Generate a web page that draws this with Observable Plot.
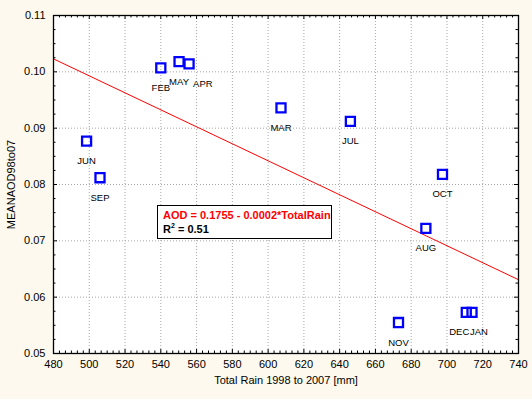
<!DOCTYPE html>
<html><head><meta charset="utf-8">
<script src="https://cdn.jsdelivr.net/npm/d3@7"></script>
<script src="https://cdn.jsdelivr.net/npm/@observablehq/plot@0.6"></script>
<style>
body{margin:0;background:#FDF9EE;}
#wrap{position:relative;width:532px;height:399px;background:#FDF9EE;}
#box{position:absolute;left:157px;top:205px;width:173px;height:32px;border:1px solid #000;background:#fff;font:bold 11px "Liberation Sans",Arial,sans-serif;color:#000;}
#box .l1{position:absolute;left:5px;top:3px;color:#ff0000;white-space:nowrap;}
#box .l2{position:absolute;left:5px;top:17px;white-space:nowrap;}
#box sup{font-size:7px;vertical-align:5px;line-height:0;}
</style></head><body>
<div id="wrap"><div id="chart"></div>
<div id="box"><div class="l1">AOD = 0.1755 - 0.0002*TotalRain</div><div class="l2">R<sup>2</sup> = 0.51</div></div>
</div>
<script>
const months = ["JUN","SEP","FEB","MAY","APR","MAR","JUL","OCT","AUG","NOV","DEC","JAN"];
const rain = [498.5, 506, 540, 550.2, 555.8, 607.2, 646, 697.5, 688.2, 672.9, 710.8, 714];
const aod = [0.0877, 0.0812, 0.1007, 0.1018, 0.1014, 0.0936, 0.0912, 0.0818, 0.0722, 0.0555, 0.0573, 0.0573];
const fitRain = [480, 740];
const fitAod = [0.1023, 0.0631];
const xTicks = [480,500,520,540,560,580,600,620,640,660,680,700,720,740];
const yTicks = [0.05,0.06,0.07,0.08,0.09,0.10,0.11];

const data = months.map((m,i)=>({month:m, rain:rain[i], aod:aod[i]}));
const fit = fitRain.map((r,i)=>({rain:r, aod:fitAod[i]}));

const W=532,H=399,mL=53,mR=14,mT=15,mB=46;
const iw=W-mL-mR, ih=H-mT-mB;
const xMinor = d3.range(0,79).filter(i=>i%6!==0).map(i=>480+i*20/6);
const yMinor = d3.range(0,25).filter(i=>i%4!==0).map(i=>0.05+i*0.0025);
const labelStyle = {APR:{a:"start",dx:4}, JAN:{a:"start",dx:-2}, DEC:{a:"end",dx:3}};
const font = "Liberation Sans, Arial, sans-serif";
const labelMarks = data.map(d => {
  const s = labelStyle[d.month] || {a:"middle", dx:0};
  return Plot.text([d], {x:"rain", y:"aod", text:"month", dy:20, dx:s.dx, fontSize:9.5, textAnchor:s.a, fill:"#000"});
});

const chart = Plot.plot({
  width:W, height:H, marginLeft:mL, marginRight:mR, marginTop:mT, marginBottom:mB,
  style:{background:"transparent", fontFamily:font, fontSize:"11px", color:"#000"},
  x:{domain:[480,740]}, y:{domain:[0.05,0.11]},
  marks:[
    Plot.frame({fill:"white", stroke:null}),
    Plot.ruleX(xTicks.slice(1,-1), {stroke:"#a8a8a8", strokeDasharray:"1,2"}),
    Plot.ruleY(yTicks.slice(1,-1), {stroke:"#a8a8a8", strokeDasharray:"1,2"}),
    Plot.line(fit, {x:"rain", y:"aod", stroke:"#ff0000", strokeWidth:1}),
    Plot.dot(data, {x:"rain", y:"aod", symbol:"square", r:5.1, stroke:"#0000ff", strokeWidth:2.3, fill:"none"}),
    ...labelMarks,
    Plot.ruleX(xTicks, {insetTop: ih-4, stroke:"#000"}),
    Plot.ruleX(xTicks, {insetBottom: ih-4, stroke:"#000"}),
    Plot.ruleX(xMinor, {insetTop: ih-2.5, stroke:"#000"}),
    Plot.ruleX(xMinor, {insetBottom: ih-2.5, stroke:"#000"}),
    Plot.ruleY(yTicks, {insetRight: iw-4, stroke:"#000"}),
    Plot.ruleY(yTicks, {insetLeft: iw-4, stroke:"#000"}),
    Plot.ruleY(yMinor, {insetRight: iw-2.5, stroke:"#000"}),
    Plot.ruleY(yMinor, {insetLeft: iw-2.5, stroke:"#000"}),
    Plot.frame({stroke:"#000", strokeWidth:1.3}),
    Plot.axisX(xTicks, {tickSize:0, tickPadding:7, fontSize:11, fill:"#000", label:"Total Rain 1998 to 2007 [mm]", labelAnchor:"center", labelOffset:30, labelArrow:"none"}),
    Plot.axisY(yTicks, {tickSize:0, tickPadding:8, fontSize:11, fill:"#000", tickFormat:".2f", label:"MEANAOD98to07", labelAnchor:"center", labelOffset:46, labelArrow:"none"})
  ]
});
document.getElementById("chart").appendChild(chart);
</script>
</body></html>
